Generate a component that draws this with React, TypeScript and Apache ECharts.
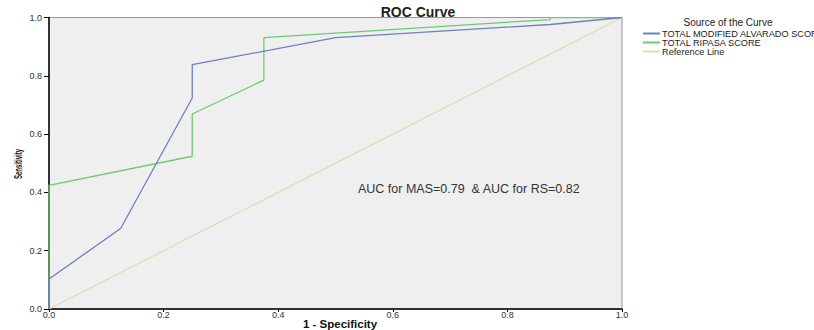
import React, { useEffect, useRef } from "react";
import * as echarts from "echarts";

const masX = [0, 0, 0.125, 0.25, 0.25, 0.5, 0.875, 1];
const masY = [0, 0.103, 0.276, 0.724, 0.838, 0.931, 0.976, 1];
const rsX = [0, 0, 0.25, 0.25, 0.375, 0.375, 0.875, 0.875, 1];
const rsY = [0, 0.424, 0.524, 0.669, 0.785, 0.931, 0.993, 1, 1];
const refX = [0, 1];
const refY = [0, 1];
const seriesNames = ["TOTAL MODIFIED ALVARADO SCORE", "TOTAL RIPASA SCORE", "Reference Line"];
const annotation = "AUC for MAS=0.79  & AUC for RS=0.82";

const pairs = (xs: number[], ys: number[]) => xs.map((x, i) => [x, ys[i]]);

export default function App() {
  const ref = useRef<HTMLDivElement>(null);
  useEffect(() => {
    document.body.style.margin = "0";
    const chart = echarts.init(ref.current!, null, { renderer: "svg" });
    const font = "Arial, 'Liberation Sans', sans-serif";
    chart.setOption({
      animation: false,
      backgroundColor: "#ffffff",
      legend: {
        orient: "vertical",
        left: 643,
        top: 29,
        padding: 0,
        itemWidth: 17,
        itemHeight: 2,
        itemGap: 0,
        icon: "rect",
        data: seriesNames,
        textStyle: { fontSize: 9.2, lineHeight: 7, color: "#222", fontFamily: font, padding: [0, 0, 0, -3] },
      },
      grid: {
        left: 49,
        right: 192,
        top: 17.5,
        bottom: 21,
        outerBoundsMode: "none",
        containLabel: false,
        show: true,
        backgroundColor: "#efefef",
        borderColor: "#999",
        borderWidth: 1,
      },
      xAxis: {
        type: "value",
        min: 0,
        max: 1,
        interval: 0.2,
        axisLine: { show: true, lineStyle: { color: "#000", width: 1.5 } },
        axisTick: { show: true, length: 3, lineStyle: { color: "#000" } },
        axisLabel: { fontSize: 9, color: "#333", margin: 1, fontFamily: font, formatter: (v: number) => v.toFixed(1) },
        splitLine: { show: false },
      },
      yAxis: {
        type: "value",
        min: 0,
        max: 1,
        interval: 0.2,
        axisLine: { show: true, lineStyle: { color: "#000", width: 1.5 } },
        axisTick: { show: true, length: 5, lineStyle: { color: "#000" } },
        axisLabel: { fontSize: 9, color: "#333", margin: 7, fontFamily: font, formatter: (v: number) => v.toFixed(1) },
        splitLine: { show: false },
      },
      graphic: [
        {
          type: "text",
          x: 418,
          y: 12,
          style: {
            text: "ROC Curve",
            font: "bold 14px Arial, 'Liberation Sans', sans-serif",
            fill: "#222",
            align: "center",
            verticalAlign: "middle",
          },
        },
        {
          type: "text",
          x: 340,
          y: 324,
          style: {
            text: "1 - Specificity",
            font: "bold 11.5px Arial, 'Liberation Sans', sans-serif",
            fill: "#111",
            align: "center",
            verticalAlign: "middle",
          },
        },
        {
          type: "text",
          x: 18,
          y: 164,
          rotation: Math.PI / 2,
          scaleX: 0.55,
          style: {
            text: "Sensitivity",
            font: "bold 11px Arial, 'Liberation Sans', sans-serif",
            fill: "#111",
            align: "center",
            verticalAlign: "middle",
          },
        },
        {
          type: "text",
          x: 728,
          y: 22,
          style: {
            text: "Source of the Curve",
            font: "10px Arial, 'Liberation Sans', sans-serif",
            fill: "#222",
            align: "center",
            verticalAlign: "middle",
          },
        },
        {
          type: "text",
          x: 358,
          y: 189,
          style: {
            text: annotation,
            font: "12.5px Arial, 'Liberation Sans', sans-serif",
            fill: "#333",
            align: "left",
            verticalAlign: "middle",
          },
        },
      ],
      series: [
        {
          name: seriesNames[2],
          type: "line",
          data: pairs(refX, refY),
          showSymbol: false,
          lineStyle: { color: "#e0ddb2", width: 1.2 },
          itemStyle: { color: "#e0ddb2" },
          z: 1,
        },
        {
          name: seriesNames[1],
          type: "line",
          data: pairs(rsX, rsY),
          showSymbol: false,
          lineStyle: { color: "#6ccb6c", width: 1.3 },
          itemStyle: { color: "#6ccb6c" },
          z: 2,
        },
        {
          name: seriesNames[0],
          type: "line",
          data: pairs(masX, masY),
          showSymbol: false,
          lineStyle: { color: "#6c7fc8", width: 1.3 },
          itemStyle: { color: "#6c7fc8" },
          z: 3,
        },
      ],
    });
    return () => chart.dispose();
  }, []);
  return <div ref={ref} style={{ width: 814, height: 330 }} />;
}
